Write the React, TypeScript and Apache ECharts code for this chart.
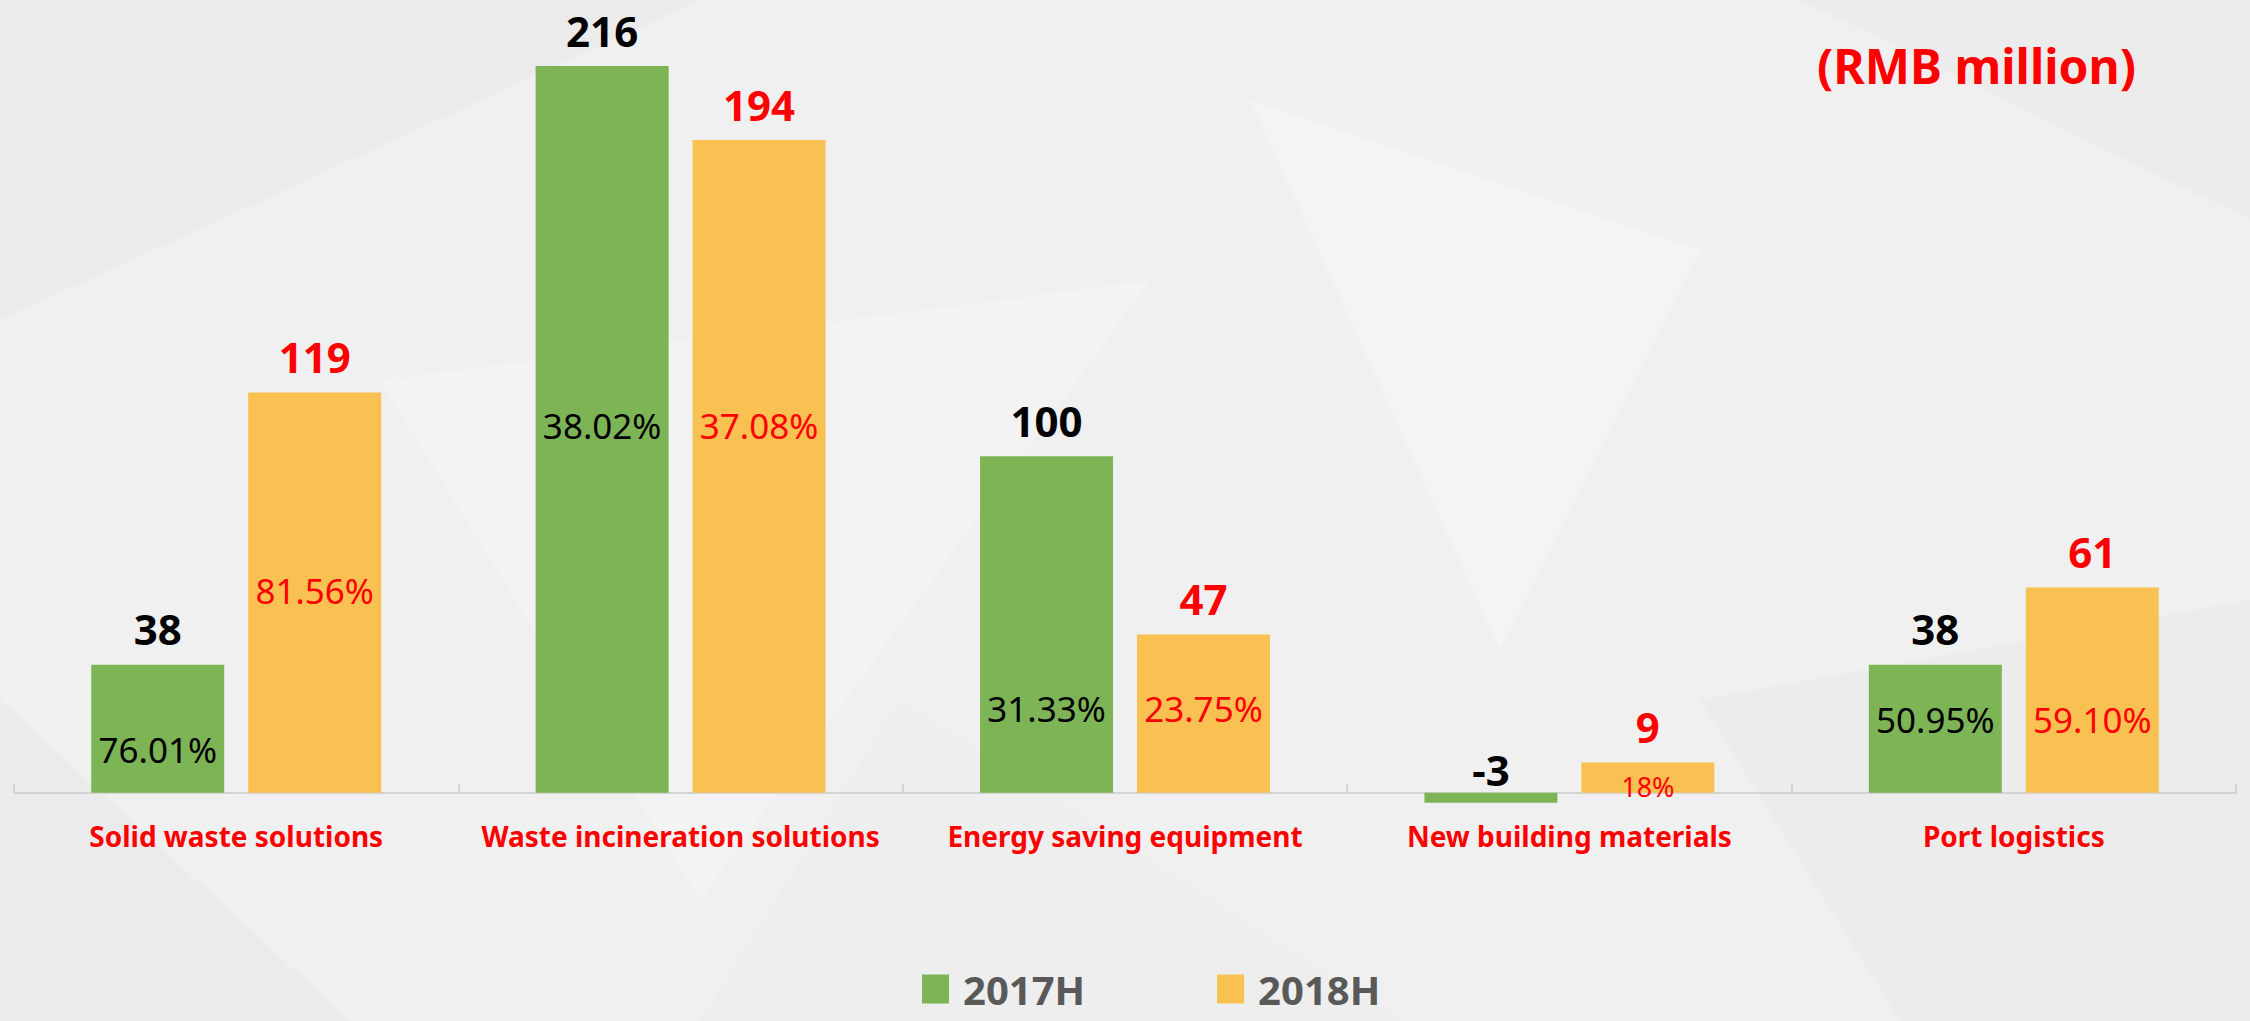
import React, { useEffect, useRef } from 'react';
import * as echarts from 'echarts';

const categories = [
  'Solid waste solutions',
  'Waste incineration solutions',
  'Energy saving equipment',
  'New building materials',
  'Port logistics',
];
const seriesNames = ['2017H', '2018H'];
const values2017 = [38, 216, 100, -3, 38];
const values2018 = [119, 194, 47, 9, 61];
const share2017 = ['76.01%', '38.02%', '31.33%', '', '50.95%'];
const share2018 = ['81.56%', '37.08%', '23.75%', '18%', '59.10%'];
const unitLabel = '(RMB million)';

// layout only: height (px) above the axis of each percentage label's centre
const shareLift2017 = [43, 367, 84, 0, 73];
const shareLift2018 = [202, 367, 84, 6, 73];

const FONT = '"Noto Sans", "Open Sans", sans-serif';
const GREEN = '#7db556';
const YELLOW = '#f9c152';
const RED = '#ff0000';
const BAR_W = 133;
const BAR_GAP = '18%';

function shareSeries(name: string, values: number[], shares: string[], lifts: number[], color: string) {
  return {
    name,
    type: 'bar',
    xAxisIndex: 1,
    barWidth: BAR_W,
    barGap: BAR_GAP,
    silent: true,
    z: 3,
    itemStyle: { color: 'rgba(0,0,0,0)' },
    data: values.map((v, i) => {
      const fs = shares[i].length <= 3 ? 27 : 35;
      return {
        value: v,
        label: { fontSize: fs, lineHeight: fs, offset: [0, -(lifts[i] - fs / 2)] },
      };
    }),
    label: {
      show: true,
      position: 'insideBottom',
      distance: 0,
      formatter: (p: any) => shares[p.dataIndex],
      color,
      fontFamily: FONT,
      fontWeight: 'normal',
    },
  };
}

function valueSeries(name: string, values: number[], barColor: string, labelColor: string) {
  return {
    name,
    type: 'bar',
    xAxisIndex: 0,
    barWidth: BAR_W,
    barGap: BAR_GAP,
    itemStyle: { color: barColor },
    data: values.map((v) => (v < 0 ? { value: v, label: { distance: 2 } } : { value: v })),
    label: {
      show: true,
      position: 'top',
      distance: 15,
      formatter: (p: any) => String(p.value),
      fontSize: 42,
      lineHeight: 42,
      fontWeight: 'bold',
      color: labelColor,
      fontFamily: FONT,
    },
  };
}

const bgPolys: { pts: number[][]; fill: string }[] = [
  { pts: [[0, 0], [700, 0], [0, 320]], fill: '#ebebeb' },
  { pts: [[380, 380], [1150, 280], [700, 900]], fill: '#f3f3f3' },
  { pts: [[1250, 100], [1700, 250], [1500, 650]], fill: '#f4f4f4' },
  { pts: [[1800, 0], [2250, 0], [2250, 220]], fill: '#ececec' },
  { pts: [[0, 700], [350, 1021], [0, 1021]], fill: '#ebebeb' },
  { pts: [[1700, 700], [2250, 600], [2250, 1021], [1900, 1021]], fill: '#ececec' },
  { pts: [[900, 700], [1400, 1021], [700, 1021]], fill: '#eeeeee' },
];

export default function App() {
  const ref = useRef<HTMLDivElement>(null);
  useEffect(() => {
    if (!ref.current) return;
    const chart = echarts.init(ref.current, undefined, { renderer: 'svg' });
    chart.setOption({
      animation: false,
      backgroundColor: '#f0f0f0',
      graphic: {
        elements: bgPolys.map((p) => ({
          type: 'polygon',
          silent: true,
          z: -10,
          shape: { points: p.pts },
          style: { fill: p.fill },
        })),
      },
      title: {
        text: unitLabel,
        left: 1812,
        top: 36,
        textStyle: { fontSize: 48, lineHeight: 48, fontWeight: 'bold', color: RED, fontFamily: FONT },
      },
      legend: {
        data: seriesNames,
        left: 917,
        top: 964,
        itemWidth: 27,
        itemHeight: 29,
        itemGap: 132,
        icon: 'rect',
        textStyle: {
          fontSize: 40,
          lineHeight: 40,
          fontWeight: 'bold',
          color: '#595959',
          fontFamily: FONT,
          padding: [0, 0, 0, 9],
        },
      },
      grid: { left: 14, right: 14, top: 19, bottom: 211.5, containLabel: false },
      xAxis: [
        {
          type: 'category',
          data: categories,
          axisLine: { onZero: true, lineStyle: { color: '#d4d4d4', width: 2 } },
          axisTick: { show: true, inside: true, length: 9, lineStyle: { color: '#d4d4d4', width: 2 } },
          axisLabel: {
            interval: 0,
            fontSize: 28,
            fontWeight: 'bold',
            color: RED,
            margin: 12,
            fontFamily: FONT,
          },
        },
        { type: 'category', data: categories, show: false },
      ],
      yAxis: { type: 'value', min: -5, max: 230, show: false },
      series: [
        valueSeries(seriesNames[0], values2017, GREEN, '#000000'),
        valueSeries(seriesNames[1], values2018, YELLOW, RED),
        shareSeries('share2017', values2017, share2017, shareLift2017, '#000000'),
        shareSeries('share2018', values2018, share2018, shareLift2018, RED),
      ],
    });
    return () => chart.dispose();
  }, []);
  return (
    <div
      ref={ref}
      style={{ position: 'fixed', left: 0, top: 0, width: 2250, height: 1021 }}
    />
  );
}
